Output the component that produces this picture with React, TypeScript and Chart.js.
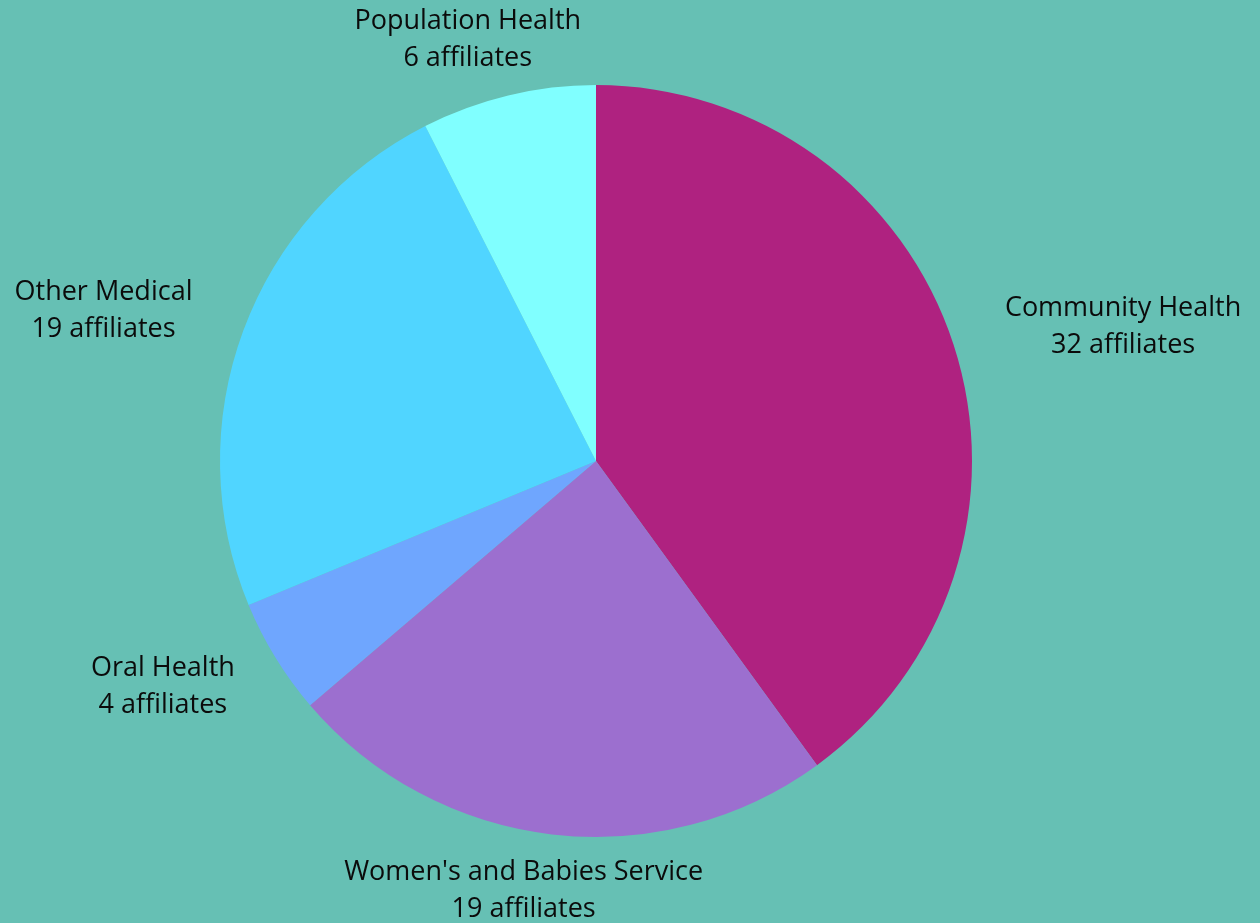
import { useEffect, useRef } from "react";
import { Chart, registerables } from "chart.js";

Chart.register(...registerables);

const CATEGORIES = [
  "Community Health",
  "Women's and Babies Service",
  "Oral Health",
  "Other Medical",
  "Population Health",
];
const AFFILIATES = [32, 19, 4, 19, 6];
const SLICE_COLORS = ["#af2280", "#9c6fcf", "#6fa6fe", "#50d5ff", "#80ffff"];
const BG = "#66c0b4";

const FONT = "27px 'Open Sans', sans-serif";
const LINE_H = 37;

// draws the two-line labels outside each slice
const outsideLabels = {
  id: "outsideLabels",
  afterDatasetsDraw(chart: any) {
    const { ctx } = chart;
    const meta = chart.getDatasetMeta(0);
    ctx.save();
    ctx.font = FONT;
    ctx.fillStyle = "#0b0b0b";
    ctx.textAlign = "center";
    ctx.textBaseline = "middle";
    meta.data.forEach((arc: any, i: number) => {
      const { x, y, startAngle, endAngle, outerRadius } = arc.getProps(
        ["x", "y", "startAngle", "endAngle", "outerRadius"],
        true
      );
      const mid = (startAngle + endAngle) / 2;
      const dx = Math.cos(mid);
      const dy = Math.sin(mid);
      const lines = [CATEGORIES[i], `${AFFILIATES[i]} affiliates`];
      const w = Math.max(...lines.map((l) => ctx.measureText(l).width));
      const h = LINE_H * 2;
      const cx = x + dx * (outerRadius + 60) + (dx * w) / 2;
      const cy = y + dy * (outerRadius + 20) + (dy * h) / 2;
      ctx.fillText(lines[0], cx, cy - LINE_H / 2);
      ctx.fillText(lines[1], cx, cy + LINE_H / 2);
    });
    ctx.restore();
  },
};

function PieChart() {
  const canvasRef = useRef<HTMLCanvasElement>(null);
  const chartRef = useRef<any>(null);

  useEffect(() => {
    if (!canvasRef.current) return;
    if (chartRef.current) chartRef.current.destroy();

    chartRef.current = new Chart(canvasRef.current, {
      type: "pie",
      data: {
        labels: CATEGORIES,
        datasets: [
          {
            data: AFFILIATES,
            backgroundColor: SLICE_COLORS,
            borderWidth: 0,
          },
        ],
      },
      options: {
        animation: false,
        responsive: false,
        maintainAspectRatio: false,
        layout: { padding: { top: 85, bottom: 86, left: 220, right: 288 } },
        plugins: {
          legend: { display: false },
          tooltip: { enabled: false },
        },
      },
      plugins: [outsideLabels],
    });

    return () => {
      if (chartRef.current) {
        chartRef.current.destroy();
        chartRef.current = null;
      }
    };
  }, []);

  return <canvas ref={canvasRef} width={1260} height={923} />;
}

export default function App() {
  useEffect(() => {
    document.body.style.margin = "0";
  }, []);
  return (
    <div style={{ width: 1260, height: 923, background: BG }}>
      <PieChart />
    </div>
  );
}
